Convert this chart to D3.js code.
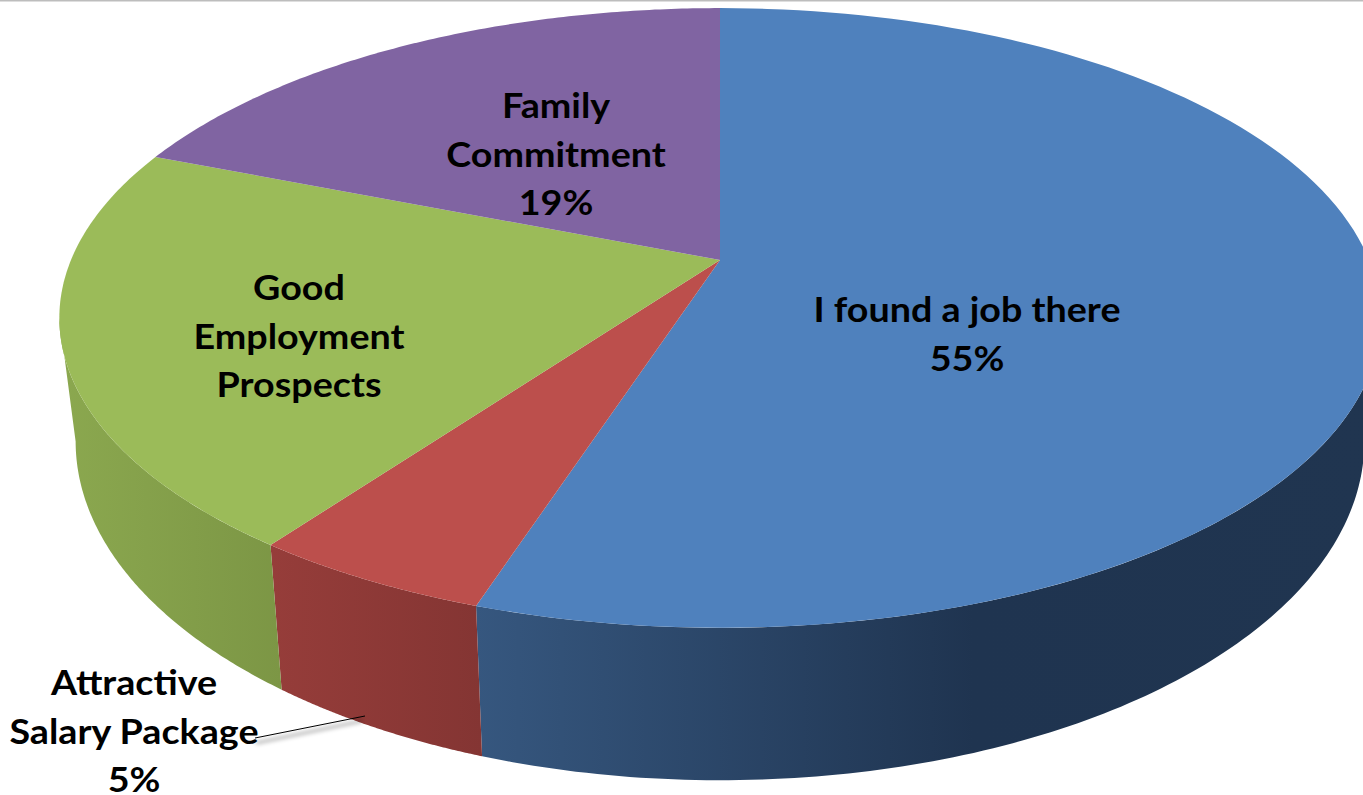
<!DOCTYPE html>
<html>
<head>
<meta charset="utf-8">
<script src="https://cdn.jsdelivr.net/npm/d3@7"></script>
<style>
  html, body { margin: 0; padding: 0; background: #fff; overflow: hidden; }
  svg { display: block; }
  text { font-family: Lato, "Open Sans", sans-serif; font-weight: 700; font-size: 33.5px; fill: #000; text-anchor: middle; }
</style>
</head>
<body>
<div id="chart"></div>
<script>
// chart data
var categories = ["I found a job there", "Attractive Salary Package", "Good Employment Prospects", "Family Commitment"];
var values = [55, 5, 21, 19];
var labelLines = [
  ["I found a job there", "55%"],
  ["Attractive", "Salary Package", "5%"],
  ["Good", "Employment", "Prospects"],
  ["Family", "Commitment", "19%"]
];

// colours
var topColors = ["#4f81bd", "#bc4f4c", "#9bbb59", "#8064a2"];
var wallStops = [
  [[0, "#36577f"], [0.55, "#1f3450"], [1, "#203550"]],
  [[0, "#963d3a"], [1, "#843533"]],
  [[0, "#8ba84f"], [1, "#7c9645"]]
];

// label anchors: centre x, first baseline
var labelPos = [[967, 322], [134, 695], [299, 300], [556, 118]];
var lineGap = 48.7;
var labelStretch = 1.125;

var svgWidth = 1363;
var svgHeight = 795;

// perspective of the pie plane
var tilt = -0.187;
var topScaleX = d3.scaleLinear().domain([0, 1]).range([720, 1369]);
var topScaleY = d3.scaleLinear().domain([0, 1]).range([260, 559]);
var bottomScaleX = d3.scaleLinear().domain([0, 1]).range([720, 1353]);
var bottomScaleY = d3.scaleLinear().domain([0, 1]).range([378, 705]);

// angle (clockwise from 12 o'clock) to a point on the rim
function rim(angle, sx, sy) {
  var X = Math.sin(angle);
  var Y = -Math.cos(angle);
  var w = 1 + tilt * Y;
  return [sx(X / w), sy(Y / w)];
}
function topRim(a) { return rim(a, topScaleX, topScaleY); }
function bottomRim(a) { return rim(a, bottomScaleX, bottomScaleY); }

function arcAngles(a0, a1) {
  return d3.range(0, 121).map(i => a0 + (a1 - a0) * i / 120);
}

var color = d3.scaleOrdinal().domain(categories).range(topColors);
var pie = d3.pie().sort(null).value(d => d.value);
var slices = pie(categories.map((c, i) => ({ name: c, value: values[i] })));
var line = d3.line();

var svg = d3.select("#chart").append("svg")
  .attr("width", svgWidth)
  .attr("height", svgHeight);

var defs = svg.append("defs");
defs.append("filter").attr("id", "blur")
  .attr("x", "-10%").attr("y", "-200%").attr("width", "120%").attr("height", "500%")
  .append("feGaussianBlur").attr("stdDeviation", 2);

// grey rule along the top of the image
svg.append("rect")
  .attr("width", svgWidth)
  .attr("height", 1.5)
  .attr("fill", "#bdbdbd");

// side walls first, the top face covers what sticks out.
// walls run between the two tangent angles of the rim
var wallSlices = slices.slice(0, 3);
var tangentRight = 100.8 * Math.PI / 180;
var tangentLeft = 259.2 * Math.PI / 180;
wallSlices.forEach(function(d, i) {
  var a0 = Math.max(d.startAngle, tangentRight);
  var a1 = Math.min(d.endAngle, tangentLeft);
  var angles = arcAngles(a0, a1);
  var xs = angles.map(a => topRim(a)[0]).concat(angles.map(a => bottomRim(a)[0]));
  var grad = defs.append("linearGradient")
    .attr("id", "wall" + i)
    .attr("gradientUnits", "userSpaceOnUse")
    .attr("x1", d3.min(xs)).attr("x2", d3.max(xs))
    .attr("y1", 0).attr("y2", 0);
  wallStops[i].forEach(function(s) {
    grad.append("stop").attr("offset", s[0]).attr("stop-color", s[1]);
  });
  var pts = angles.map(topRim).concat(angles.slice().reverse().map(bottomRim));
  svg.append("path")
    .attr("d", line(pts) + "Z")
    .attr("fill", "url(#wall" + i + ")");
});

// top face
svg.selectAll(".slice")
  .data(slices)
  .enter()
  .append("path")
  .attr("class", "slice")
  .attr("d", function(d) {
    var pts = [[topScaleX(0), topScaleY(0)]].concat(arcAngles(d.startAngle, d.endAngle).map(topRim));
    return line(pts) + "Z";
  })
  .attr("fill", d => color(d.data.name));

// leader line of the small slice, with its soft shadow
svg.append("line")
  .attr("x1", 256).attr("y1", 743).attr("x2", 362).attr("y2", 721)
  .attr("stroke", "#000").attr("stroke-opacity", 0.35).attr("stroke-width", 2.5)
  .attr("filter", "url(#blur)");
svg.append("line")
  .attr("x1", 255).attr("y1", 738).attr("x2", 365).attr("y2", 716)
  .attr("stroke", "#000").attr("stroke-width", 1);

// labels, the reference type is a bit wider than Lato
labelLines.forEach(function(lines, i) {
  svg.append("text")
    .attr("transform", `translate(${labelPos[i][0]}, ${labelPos[i][1]}) scale(${labelStretch}, 1)`)
    .selectAll("tspan")
    .data(lines)
    .enter()
    .append("tspan")
    .attr("x", 0)
    .attr("y", (d, k) => k * lineGap)
    .text(d => d);
});
</script>
</body>
</html>
